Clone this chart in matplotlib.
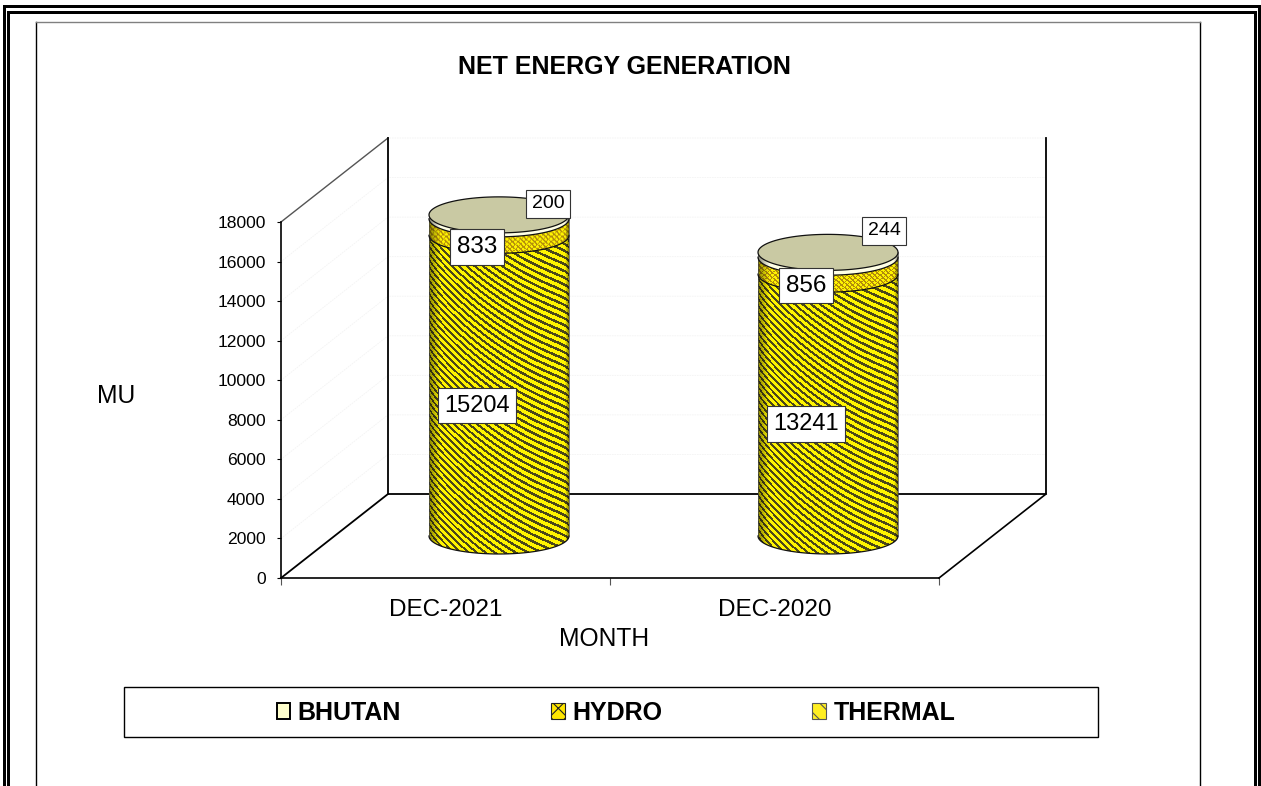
import numpy as np
import matplotlib
matplotlib.use("Agg")
import matplotlib.pyplot as plt
from matplotlib.patches import Rectangle, Polygon, Patch

plt.rcParams['font.family'] = ['Liberation Sans', 'DejaVu Sans']
plt.rcParams['hatch.linewidth'] = 0.8

W, H = 1261, 786

months = ["DEC-2021", "DEC-2020"]
thermal = [15204, 13241]
hydro = [833, 856]
bhutan = [200, 244]
y_ticks = [0, 2000, 4000, 6000, 8000, 10000, 12000, 14000, 16000, 18000]

# offsets of the data labels from the middle of their segment, in pixels
thermal_off = [(-22, -20), (-22, -19)]
hydro_off = [(-22, -20), (-22, -20)]
bhutan_off = [(49, 13), (56, 24)]

# geometry of the fake 3d box, pixels
AX_L, AX_R, AX_B, AX_T = 281, 939, 578, 222
DEPTH_X, DEPTH_Y = 107, 84
R_X, R_Y = 70, 18
UX = (AX_R - AX_L) / 2.0       # pixels per category
UY = (AX_B - AX_T) / 18000.0   # pixels per MU


def px_rect(l, t, r, b):
    return [l / W, 1 - b / H, (r - l) / W, (b - t) / H]


fig = plt.figure(figsize=(W / 100, H / 100), dpi=100, facecolor='white')

# page furniture in pixel coordinates
bg = fig.add_axes([0, 0, 1, 1])
bg.set_xlim(0, W); bg.set_ylim(H, 0); bg.axis('off')
for x0, x1, y0 in [(3, 6, 5), (7, 10, 11), (1254, 1256.5, 11), (1258, 1261, 5)]:
    bg.add_patch(Rectangle((x0, y0), x1 - x0, H - y0, fc='k', ec='none'))
bg.add_patch(Rectangle((3, 5), 1258, 3, fc='k', ec='none'))
bg.add_patch(Rectangle((7, 11), 1249, 3, fc='k', ec='none'))
bg.plot([36, 36], [22, H], color='k', lw=1)
bg.plot([1200, 1200], [22, H], color='k', lw=1)
bg.plot([36, 1200], [22, 22], color='#808080', lw=1)
bg.add_patch(Rectangle((124, 687), 974, 50, fc='white', ec='k', lw=1))
bg.text(624.5, 67, "NET ENERGY GENERATION", ha='center', va='center',
        fontsize=18, fontweight='bold')
bg.text(116.5, 396, "MU", ha='center', va='center', fontsize=17.7)
bg.text(604.5, 639, "MONTH", ha='center', va='center', fontsize=17.7)

ax = fig.add_axes(px_rect(AX_L, AX_T, AX_R, AX_B))
ax.patch.set_alpha(0)
ax.set_xlim(-0.5, 1.5)
ax.set_ylim(0, 18000)
for s in ['top', 'right']:
    ax.spines[s].set_visible(False)
ax.spines['left'].set_linewidth(1.2)
ax.spines['bottom'].set_linewidth(1.2)
ax.set_yticks(y_ticks)
ax.tick_params(axis='y', labelsize=12.6, length=3, pad=8)
ax.set_xticks([-0.5, 0.5, 1.5])
ax.set_xticklabels([])
ax.tick_params(axis='x', which='major', length=5, color='#555555')
ax.set_xticks([0, 1], minor=True)
ax.set_xticklabels(months, minor=True, fontsize=17.5)
ax.tick_params(axis='x', which='minor', length=0, pad=15)

dx = DEPTH_X / UX
dy = DEPTH_Y / UY

# walls and floor of the box
for v in y_ticks[1:]:
    ax.plot([-0.5, -0.5 + dx, 1.5 + dx], [v, v + dy, v + dy], color='#f3f3f3',
            lw=0.6, ls=(0, (2, 1)), clip_on=False, zorder=0.5)
top = 18000 + dy
ax.plot([-0.5, -0.5 + dx], [18000, top], color='#555555', lw=1.0, clip_on=False)
ax.plot([-0.5 + dx, -0.5 + dx], [top, dy], color='k', lw=1.3, clip_on=False)
ax.plot([-0.5, -0.5 + dx, 1.5 + dx, 1.5 + dx], [0, dy, dy, top], color='k', lw=1.3, clip_on=False)
ax.plot([1.5, 1.5 + dx], [0, dy], color='k', lw=1.2, clip_on=False)


def thermal_tex(u, yy):
    # diagonal stripes wrapping round the cylinder
    s = 70 * (0.56 * u - 0.2 * u ** 2) + 8 * np.arcsin(u)
    return (np.mod(yy - s, 6.8) < 2.8)


def hydro_tex(u, yy):
    a = np.mod(yy - u * 70 * 0.9, 5.0) < 1.8
    b = np.mod(yy + u * 70 * 0.9, 5.0) < 1.0
    return a | b


def side_path(cx, v0, v1):
    t = np.linspace(np.pi, 0, 60)
    xs = cx + R_X / UX * np.cos(t)
    low = v0 - R_Y / UY * np.sin(t)
    up = v1 - R_Y / UY * np.sin(t)
    return np.column_stack([np.r_[xs, xs[::-1]], np.r_[low, up[::-1]]])


def draw_segment(cx, v0, v1, dark, light, tex):
    ext = (cx - R_X / UX, cx + R_X / UX, v0 - R_Y / UY, v1)
    nx = 2 * R_X
    ny = max(int(round((ext[3] - ext[2]) * UY)), 2)
    u = np.linspace(-0.999, 0.999, nx)
    yy = np.linspace(0, ny, ny)
    U, Y = np.meshgrid(u, yy)
    mask = tex(U, Y)
    # darker on the left edge than on the right
    edge = np.minimum((U + 1) / 0.16, (1 - U) / 0.05)
    shade = 0.55 + 0.45 * np.clip(edge, 0, 1)
    img = np.where(mask[..., None], np.array(dark), np.array(light))
    img = np.clip(img * shade[..., None], 0, 1)
    poly = Polygon(side_path(cx, v0, v1), closed=True, fc='none', ec='none',
                   transform=ax.transData)
    ax.add_patch(poly)
    im = ax.imshow(img, extent=ext, origin='upper', aspect='auto', zorder=2,
                   interpolation='bilinear')
    im.set_clip_box(fig.bbox)
    im.set_clip_path(poly)
    t = np.linspace(np.pi, 0, 60)
    ax.plot(cx + R_X / UX * np.cos(t), v0 - R_Y / UY * np.sin(t), color='#111111', lw=0.9,
            clip_on=False, zorder=3)
    ax.plot([cx - R_X / UX] * 2, [v0, v1], color='#444444', lw=0.5, clip_on=False, zorder=3)
    ax.plot([cx + R_X / UX] * 2, [v0, v1], color='#444444', lw=0.5, clip_on=False, zorder=3)


YELLOW = (1.0, 0.96, 0.0)
DARK = (0.3, 0.28, 0.1)
GOLD = (0.7, 0.55, 0.05)
CREAM = (1.0, 1.0, 0.9)

for i in range(len(months)):
    cx = i + dx / 2
    base = dy / 2
    v1 = base + thermal[i]
    v2 = v1 + hydro[i]
    v3 = v2 + bhutan[i]
    draw_segment(cx, base, v1, DARK, YELLOW, thermal_tex)
    draw_segment(cx, v1, v2, GOLD, YELLOW, hydro_tex)
    draw_segment(cx, v2, v3, CREAM, CREAM, lambda u, y: np.ones_like(u, dtype=bool))
    t = np.linspace(0, 2 * np.pi, 120)
    ax.fill(cx + R_X / UX * np.cos(t), v3 + R_Y / UY * np.sin(t), fc='#c9c9a3',
            ec='#111111', lw=0.9, clip_on=False, zorder=4)

    lab = [(thermal[i], base + thermal[i] / 2, thermal_off[i], 17),
           (hydro[i], v1 + hydro[i] / 2, hydro_off[i], 17.5),
           (bhutan[i], v2 + bhutan[i] / 2, bhutan_off[i], 14)]
    for val, ymid, off, fs in lab:
        ax.annotate(str(val), (cx, ymid), xytext=(off[0] * 0.72, off[1] * 0.72),
                    textcoords='offset points', ha='center', va='center', fontsize=fs,
                    zorder=6, annotation_clip=False,
                    bbox=dict(boxstyle='square,pad=0.28', fc='white', ec='#333333', lw=0.8))

handles = [Patch(fc='#ffffcc', ec='k', lw=1.4, label='BHUTAN'),
           Patch(fc='#ffe600', ec='#222222', hatch='xx', lw=0.8, label='HYDRO'),
           Patch(fc='#ffee22', ec='#555555', hatch='\\\\', lw=0.8, label='THERMAL')]
leg = fig.legend(handles=handles, ncol=3, frameon=False, loc='center',
                 bbox_to_anchor=(616 / W, 1 - 712.5 / H), prop={'size': 18, 'weight': 'bold'},
                 handlelength=0.55, handleheight=0.62, handletextpad=0.3,
                 columnspacing=6.0)

fig.savefig('out.png', dpi=100)
